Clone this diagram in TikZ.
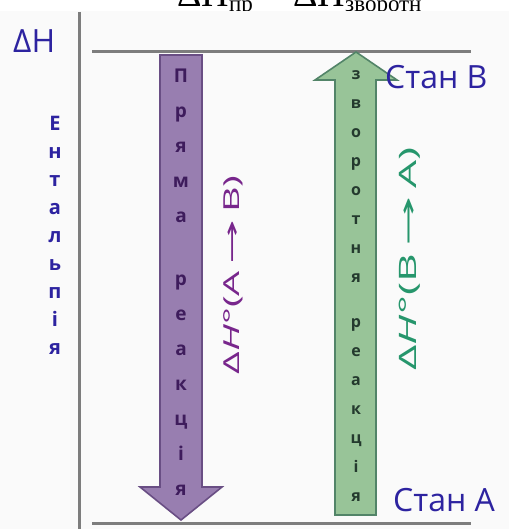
\documentclass[tikz,border=0pt]{standalone}
\usepackage{fontspec}
\setmainfont{Open Sans}
\newfontfamily\headfont{Liberation Serif}
\newfontfamily\arrowfont{DejaVu Sans}
\usepackage{tikz}
\usetikzlibrary{calc}
\definecolor{entblue}{RGB}{45,35,160}
\definecolor{levelgray}{RGB}{125,125,125}
\definecolor{paper}{RGB}{250,250,250}
\definecolor{fwdfill}{RGB}{152,126,176}
\definecolor{fwdedge}{RGB}{105,78,132}
\definecolor{fwdletter}{RGB}{62,28,92}
\definecolor{fwdtext}{RGB}{120,38,140}
\definecolor{revfill}{RGB}{152,196,152}
\definecolor{revedge}{RGB}{82,132,104}
\definecolor{revletter}{RGB}{36,58,46}
\definecolor{revtext}{RGB}{38,150,108}
\newcommand{\longto}{\,\scalebox{1.35}[1]{\arrowfont →}\,}

\begin{document}
\begin{tikzpicture}[x=1pt,y=-1pt,
    level/.style={line width=3pt,draw=levelgray},
    fwdarrow/.style={fill=fwdfill,draw=fwdedge,line width=1.6pt,line join=miter},
    revarrow/.style={fill=revfill,draw=revedge,line width=1.6pt,line join=miter},
    fwdchar/.style={inner sep=0pt,text height=1ex,text depth=0pt,text=fwdletter,font=\fontsize{19}{20}\selectfont\bfseries},
    revchar/.style={inner sep=0pt,text height=1ex,text depth=0pt,text=revletter,font=\fontsize{16}{17}\selectfont\bfseries},
    entchar/.style={inner sep=0pt,text height=1ex,text depth=0pt,text=entblue,font=\fontsize{20}{22}\selectfont\bfseries},
    statelabel/.style={inner sep=0pt,anchor=west,text=entblue,font=\fontsize{32}{34}\selectfont},
    dhlabel/.style={rotate=90,inner sep=0pt}]
    \useasboundingbox (0,0) rectangle (509,529);
    \fill[white] (0,0) rectangle (509,11);
    \fill[paper] (0,11) rectangle (509,529);
    \begin{scope}
        \clip (0,0) rectangle (509,11);
        \node[anchor=base west,inner sep=0pt] (eq) at (177,7) {\headfont\fontsize{38}{40}\selectfont ΔH\raisebox{-0.12em}{\fontsize{23}{24}\selectfont пр} = ΔH\raisebox{-0.12em}{\fontsize{23}{24}\selectfont зворотн}};
    \end{scope}
    \coordinate (axtop) at (79,12);
    \coordinate (axbot) at (79,529);
    \coordinate (hiL) at (92,52);
    \coordinate (hiR) at (471,52);
    \coordinate (loL) at (92,523);
    \coordinate (loR) at (471,523);
    \draw[level] (axtop) -- (axbot);
    \draw[level] (hiL) -- (hiR);
    \draw[level] (loL) -- (loR);
    \node[statelabel] (dH) at (13,41) {ΔH};
    \foreach \ch [count=\i from 0] in {Е,н,т,а,л,ь,п,і,я}
        \node[entchar] (ent\i) at (55,{128+28*\i}) {\ch};
    \draw[fwdarrow] (160,55) -- (202,55) -- (202,487) -- (222,487) -- (181,520) -- (140,487) -- (160,487) -- cycle;
    \foreach \ch [count=\i from 0] in {П,р,я,м,а}
        \node[fwdchar] (fa\i) at (181,{80+35*\i}) {\ch};
    \foreach \ch [count=\i from 0] in {р,е,а,к,ц,і,я}
        \node[fwdchar] (fb\i) at (181,{283+35*\i}) {\ch};
    \draw[revarrow] (335,515) -- (335,80) -- (315,80) -- (356,52) -- (397,80) -- (376,80) -- (376,515) -- cycle;
    \foreach \ch [count=\i from 0] in {з,в,о,р,о,т,н,я}
        \node[revchar] (ra\i) at (356,{77+29*\i}) {\ch};
    \foreach \ch [count=\i from 0] in {р,е,а,к,ц,і,я}
        \node[revchar] (rb\i) at (356,{325+29*\i}) {\ch};
    \node[dhlabel,text=fwdtext] (dHfwd) at (233,275) {\scalebox{1.8}[1]{\fontsize{22}{24}\selectfont Δ\textit{H}°(A\longto B)}};
    \node[dhlabel,text=revtext] (dHrev) at (410,259) {\scalebox{1.85}[1]{\fontsize{24}{26}\selectfont Δ\textit{H}°(B\longto A)}};
    \node[statelabel] (stanB) at (385,77) {Стан B};
    \node[statelabel] (stanA) at (393,500) {Стан A};
\end{tikzpicture}
\end{document}
